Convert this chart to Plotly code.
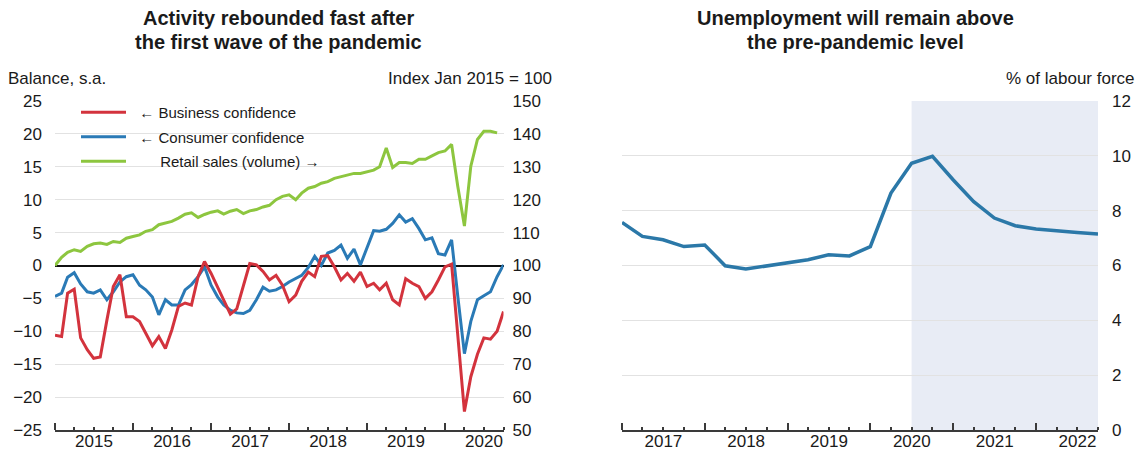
import plotly.graph_objects as go
import pandas as pd

# ---------------- data ----------------
conf_months = pd.date_range("2015-01-01", "2020-10-01", freq="MS").strftime("%Y-%m-%d").tolist()
retail_months = pd.date_range("2015-01-01", "2020-09-01", freq="MS").strftime("%Y-%m-%d").tolist()

business_confidence = [
    -10.6, -10.8, -4.2, -3.6, -11.0, -12.8, -14.1, -13.9, -8.3, -3.2, -1.4, -7.8,
    -7.8, -8.5, -10.3, -12.2, -10.8, -12.6, -9.8, -6.2, -5.7, -6.0, -1.7, 0.6,
    -1.2, -3.3, -5.2, -7.4, -6.6, -3.2, 0.3, 0.1, -0.9, -2.2, -1.5, -3.0,
    -5.5, -4.5, -2.4, -1.0, -1.7, 1.4, 1.5, -0.2, -2.2, -1.2, -2.4, -1.0,
    -3.2, -2.7, -3.7, -2.7, -5.2, -6.0, -2.0, -2.7, -3.2, -5.0, -4.0, -2.2,
    -0.2, 0.2, -11.0, -22.2, -16.9, -13.5, -11.0, -11.2, -10.0, -7.0,
]
consumer_confidence = [
    -4.7, -4.2, -1.8, -1.1, -2.8, -4.0, -4.2, -3.7, -5.2, -4.0, -2.5, -1.7,
    -1.4, -3.0, -3.7, -4.8, -7.5, -5.2, -6.0, -6.0, -3.7, -2.9, -1.7, -0.2,
    -3.0, -4.8, -6.0, -6.8, -7.2, -7.3, -6.8, -5.2, -3.3, -3.9, -3.7, -3.2,
    -2.5, -2.0, -1.5, -0.3, 1.4, 0.0, 1.9, 2.3, 3.1, 1.1, 2.5, 0.1,
    2.6, 5.3, 5.2, 5.5, 6.4, 7.7, 6.6, 7.1, 5.6, 3.9, 4.2, 1.8,
    1.6, 3.9, -4.7, -13.4, -8.5, -5.2, -4.6, -4.0, -1.7, 0.1,
]
retail_sales = [
    100.0, 102.5, 104.0, 104.8, 104.3, 105.8, 106.6, 106.8, 106.4, 107.3, 107.0, 108.3,
    108.8, 109.3, 110.4, 110.9, 112.4, 112.9, 113.4, 114.4, 115.6, 116.0, 114.6, 115.5,
    116.2, 116.6, 115.6, 116.5, 117.0, 115.8, 116.6, 117.0, 117.8, 118.3, 120.0, 121.0,
    121.5, 120.0, 122.0, 123.5, 124.0, 125.0, 125.5, 126.5, 127.0, 127.5, 128.0, 128.0,
    128.5, 129.0, 130.0, 135.7, 129.8, 131.3, 131.3, 131.0, 132.3, 132.3, 133.3, 134.3,
    134.8, 136.8, 124.0, 112.0, 130.2, 138.3, 140.8, 140.8, 140.3,
]

unemp_quarters = pd.date_range("2017-01-01", "2022-10-01", freq="QS").strftime("%Y-%m-%d").tolist()
unemployment_rate = [
    7.57, 7.06, 6.94, 6.69, 6.75, 5.99, 5.87, 5.99, 6.11, 6.21, 6.39, 6.35,
    6.69, 8.64, 9.73, 9.98, 9.12, 8.33, 7.73, 7.45, 7.33, 7.25, 7.20, 7.15,
]

projection_start = "2020-07-01"
left_range = ["2015-01-01", "2020-10-01"]
right_range = ["2017-01-01", "2022-10-01"]

legend_names = ["\u00a0\u00a0\u2190 Business confidence", "\u00a0\u00a0\u2190 Consumer confidence",
                "\u00a0\u00a0\u00a0\u00a0\u00a0\u00a0\u00a0Retail sales (volume) \u2192"]
left_title = ["Activity rebounded fast after", "the first wave of the pandemic"]
right_title = ["Unemployment will remain above", "the pre-pandemic level"]

# ---------------- styling ----------------
W, H = 1138, 450
RED = "#d3333d"
BLUE = "#2a7ab6"
GREEN = "#8dc63f"
LINE_BLUE = "#2b78a8"
FONT = "Liberation Sans, Arial, sans-serif"
TXT = "#1a1a1a"
GRID = "#e2e2e2"
AX = "#3a3a3a"


def px_x(v):
    return v / W


def px_y(v):
    return 1 - v / H


y_dom = [px_y(430), px_y(101)]
left_dom = [px_x(55), px_x(503.5)]
right_dom = [px_x(622), px_x(1098)]

fig = go.Figure()

fig.add_trace(go.Scatter(x=conf_months, y=consumer_confidence, name=legend_names[1],
                         mode="lines", line=dict(color=BLUE, width=3),
                         xaxis="x", yaxis="y", legendgroup="b", legendrank=2))
fig.add_trace(go.Scatter(x=conf_months, y=business_confidence, name=legend_names[0],
                         mode="lines", line=dict(color=RED, width=3),
                         xaxis="x", yaxis="y", legendgroup="a", legendrank=1))
fig.add_trace(go.Scatter(x=retail_months, y=retail_sales, name=legend_names[2],
                         mode="lines", line=dict(color=GREEN, width=3),
                         xaxis="x", yaxis="y2", legendgroup="c", legendrank=3))
fig.add_trace(go.Scatter(x=unemp_quarters, y=unemployment_rate, showlegend=False,
                         mode="lines", line=dict(color=LINE_BLUE, width=3.5),
                         xaxis="x2", yaxis="y3"))

tickfont = dict(family=FONT, size=17, color=TXT)


def time_axis(domain, anchor, rng):
    return dict(domain=domain, anchor=anchor, type="date", range=rng,
                tickmode="linear", tick0=rng[0], dtick="M12", tickformat="%Y",
                ticklabelmode="period", ticks="inside", ticklen=7, tickwidth=1.5,
                tickcolor=AX, tickfont=tickfont, showline=True, linecolor=AX,
                linewidth=1.5, showgrid=False, zeroline=False, automargin=False,
                ticklabelstandoff=-5,
                minor=dict(tick0=rng[0], dtick="M3", ticks="inside", ticklen=3,
                           tickwidth=1.5, tickcolor=AX, showgrid=False))


fig.update_layout(
    width=W, height=H,
    margin=dict(l=0, r=0, t=0, b=0, pad=0, autoexpand=False),
    paper_bgcolor="white", plot_bgcolor="white",
    font=dict(family=FONT, size=15, color=TXT),
    xaxis=time_axis(left_dom, "y", left_range),
    xaxis2=time_axis(right_dom, "y3", right_range),
    yaxis=dict(domain=y_dom, anchor="x", range=[-25, 25], tick0=0, dtick=5,
               showgrid=True, gridcolor=GRID, gridwidth=1,
               zeroline=True, zerolinecolor="#111111", zerolinewidth=2,
               ticks="", tickfont=tickfont, ticklabelstandoff=12, showline=False,
               automargin=False),
    yaxis2=dict(overlaying="y", side="right", anchor="x", range=[50, 150],
                tick0=50, dtick=10, showgrid=False, zeroline=False, ticks="",
                tickfont=tickfont, ticklabelstandoff=8, showline=False,
                automargin=False),
    yaxis3=dict(domain=y_dom, anchor="x2", side="right", range=[0, 12],
                tick0=0, dtick=2, showgrid=True, gridcolor=GRID, gridwidth=1,
                zeroline=False, ticks="", tickfont=tickfont,
                ticklabelstandoff=13, showline=False, automargin=False),
    legend=dict(x=px_x(76), y=px_y(96), xanchor="left", yanchor="top",
                bgcolor="rgba(0,0,0,0)", font=dict(family=FONT, size=15, color=TXT),
                tracegroupgap=2, itemwidth=45, traceorder="grouped"),
    showlegend=True,
)

fig.add_shape(type="rect", xref="x2", yref="y3 domain", x0=projection_start,
              x1=right_range[1], y0=0, y1=1, fillcolor="#e8ecf5",
              line=dict(width=0), layer="below")

title_font = dict(family=FONT, size=20, color=TXT)
for line_text, ypx in zip(left_title, [18, 42]):
    fig.add_annotation(text=f"<b>{line_text}</b>", xref="paper", yref="paper",
                       x=px_x(278), y=px_y(ypx), xanchor="center", yanchor="middle",
                       showarrow=False, font=title_font)
for line_text, ypx in zip(right_title, [18, 42]):
    fig.add_annotation(text=f"<b>{line_text}</b>", xref="paper", yref="paper",
                       x=px_x(855), y=px_y(ypx), xanchor="center", yanchor="middle",
                       showarrow=False, font=title_font)

lab_font = dict(family=FONT, size=17, color=TXT)
fig.add_annotation(text="Balance, s.a.", xref="paper", yref="paper", x=px_x(6), y=px_y(78),
                   xanchor="left", yanchor="middle", showarrow=False, font=lab_font)
fig.add_annotation(text="Index Jan 2015 = 100", xref="paper", yref="paper", x=px_x(554), y=px_y(78),
                   xanchor="right", yanchor="middle", showarrow=False, font=lab_font)
fig.add_annotation(text="% of labour force", xref="paper", yref="paper", x=px_x(1137), y=px_y(78),
                   xanchor="right", yanchor="middle", showarrow=False, font=lab_font)

fig.write_html("out.html", config={"displayModeBar": False},
               post_script="document.body.style.margin='0';"
                           "document.documentElement.style.overflow='hidden';")
